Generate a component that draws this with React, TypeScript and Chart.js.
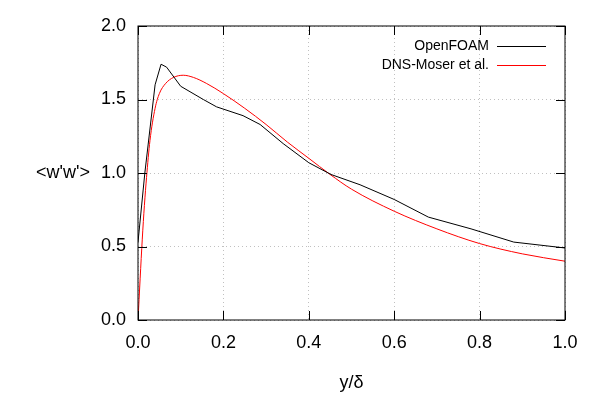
import React, { useEffect, useRef } from "react";
import { Chart, registerables } from "chart.js";
Chart.register(...registerables);

const openX = [0, 0.016, 0.04, 0.054, 0.067, 0.1, 0.153, 0.184, 0.246, 0.286, 0.34, 0.4, 0.452, 0.52, 0.6, 0.68, 0.78, 0.88, 1.0];
const openY = [0.53, 1.0, 1.6, 1.74, 1.72, 1.59, 1.5, 1.45, 1.39, 1.33, 1.2, 1.07, 0.99, 0.92, 0.82, 0.7, 0.62, 0.53, 0.49];
const dnsX = [0, 0.005, 0.01, 0.015, 0.02, 0.028, 0.04, 0.05, 0.065, 0.083, 0.106, 0.13, 0.16, 0.2, 0.25, 0.3, 0.35, 0.4, 0.45, 0.5, 0.6, 0.7, 0.8, 0.9, 1.0];
const dnsY = [0, 0.28, 0.55, 0.78, 0.97, 1.22, 1.44, 1.54, 1.61, 1.65, 1.665, 1.65, 1.61, 1.54, 1.44, 1.33, 1.21, 1.1, 0.99, 0.89, 0.74, 0.62, 0.52, 0.45, 0.4];
const xTicks = [0, 0.2, 0.4, 0.6, 0.8, 1.0];
const yTicks = [0, 0.5, 1.0, 1.5, 2.0];
const labels = ["OpenFOAM", "DNS-Moser et al."];
const colors = ["#000000", "#ff0000"];
const FONT = "'Liberation Sans', Arial, sans-serif";

export default function App() {
  const ref = useRef<HTMLCanvasElement>(null);
  useEffect(() => {
    const deco = {
      id: "deco",
      afterDraw(c: any) {
        const { ctx, chartArea: a, scales } = c;
        ctx.save();
        ctx.strokeStyle = "#000";
        ctx.lineWidth = 1;
        ctx.strokeRect(a.left, a.top, a.right - a.left, a.bottom - a.top);
        ctx.beginPath();
        for (const t of xTicks) {
          const x = Math.round(scales.x.getPixelForValue(t)) + 0.5;
          ctx.moveTo(x, a.bottom); ctx.lineTo(x, a.bottom - 9);
          ctx.moveTo(x, a.top); ctx.lineTo(x, a.top + 9);
        }
        for (const t of yTicks) {
          const y = Math.round(scales.y.getPixelForValue(t)) + 0.5;
          ctx.moveTo(a.left, y); ctx.lineTo(a.left + 9, y);
          ctx.moveTo(a.right, y); ctx.lineTo(a.right - 9, y);
        }
        ctx.stroke();
        ctx.fillStyle = "#000";
        ctx.font = `18px ${FONT}`;
        ctx.textAlign = "center";
        ctx.textBaseline = "middle";
        ctx.fillText("y/δ", (a.left + a.right) / 2, 383);
        ctx.fillText("<w'w'>", 63, scales.y.getPixelForValue(1.0));
        ctx.font = `14px ${FONT}`;
        ctx.textAlign = "right";
        labels.forEach((l, i) => {
          const y = 46 + i * 19;
          ctx.fillText(l, 489, y);
          ctx.strokeStyle = colors[i];
          ctx.beginPath();
          ctx.moveTo(497, y + 0.5); ctx.lineTo(546, y + 0.5);
          ctx.stroke();
        });
        ctx.restore();
      },
    };
    const mk = (xs: number[], ys: number[], i: number) => ({
      label: labels[i],
      data: xs.map((x, k) => ({ x, y: ys[k] })),
      borderColor: colors[i],
      borderWidth: 1,
      pointRadius: 0,
      tension: i === 1 ? 0.3 : 0,
      cubicInterpolationMode: i === 1 ? "monotone" : "default",
    });
    const axis = (min: number, max: number, ticks: number[], fit: (s: any) => void) => ({
      type: "linear", min, max,
      afterBuildTicks: (s: any) => { s.ticks = ticks.map((v) => ({ value: v })); },
      afterFit: fit,
      grid: { color: "#c0c0c0", tickLength: 0, drawTicks: false },
      border: { display: false, dash: [1, 3] },
      ticks: { color: "#000", font: { family: FONT, size: 18 }, padding: 12, callback: (v: any) => Number(v).toFixed(1) },
    });
    const chart = new Chart(ref.current!, {
      type: "line",
      data: { datasets: [mk(openX, openY, 0), mk(dnsX, dnsY, 1)] as any },
      plugins: [deco],
      options: {
        animation: false,
        responsive: false,
        layout: { padding: { top: 26, right: 35 } },
        plugins: { legend: { display: false }, tooltip: { enabled: false } },
        scales: {
          x: axis(0, 1, xTicks, (s: any) => { s.height = 80; }),
          y: axis(0, 2, yTicks, (s: any) => { s.width = 138; }),
        } as any,
      },
    });
    return () => chart.destroy();
  }, []);
  return <canvas ref={ref} width={600} height={400} style={{ position: "fixed", left: 0, top: 0 }} />;
}
